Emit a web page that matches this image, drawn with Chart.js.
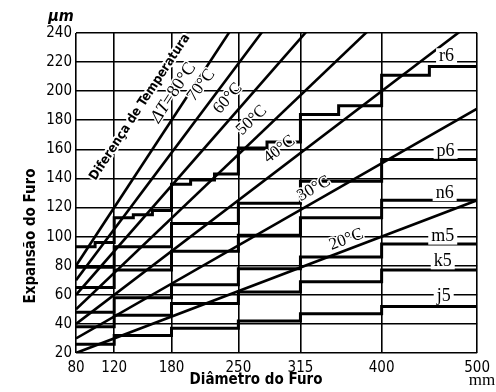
<!DOCTYPE html>
<html>
<head>
<meta charset="utf-8">
<script src="https://cdn.jsdelivr.net/npm/chart.js@4"></script>
<style>
  html, body { margin: 0; padding: 0; background: #fff; }
</style>
</head>
<body>
<canvas id="expChart" width="496" height="392"></canvas>
<script>
// diameter ticks (mm)
const xTicks = [80, 120, 180, 250, 315, 400, 500];

// temperature difference lines: expansion at D=80 and D=500 (um)
const deltaT = [20, 30, 40, 50, 60, 70, 80];
const tempAt80 = [20, 30, 40, 50, 60, 70, 80];
const tempAt500 = [125, 188, 250, 313, 375, 438, 500];

// fit step lines (um), value holds from each x until the next x
const fitNames = ["j5", "k5", "m5", "n6", "p6"];
const fitSteps = [
  [26, 32, 37, 42, 47, 52, 52],
  [38, 46, 54, 62, 69, 77, 77],
  [48, 58, 67, 78, 86, 95, 95],
  [65, 77, 90, 101, 113, 125, 125],
  [79, 93, 109, 123, 138, 153, 153]
];
const r6X = [80, 100, 120, 140, 160, 180, 200, 225, 250, 280, 315, 355, 400, 450, 500];
const r6Y = [93, 96, 113, 115, 118, 136, 139, 143, 161, 165, 184, 190, 211, 217, 217];

const NARROW = "'Liberation Sans Narrow', 'DejaVu Sans Condensed', sans-serif";
const SERIF = "'Liberation Serif', 'DejaVu Serif', serif";

const datasets = [];
deltaT.forEach((t, i) => {
  datasets.push({
    label: t + "°C",
    data: [{ x: 80, y: tempAt80[i] }, { x: 500, y: tempAt500[i] }],
    borderColor: "#000",
    borderWidth: 2.6,
    pointRadius: 0,
    clip: 0
  });
});
fitNames.forEach((name, i) => {
  datasets.push({
    label: name,
    data: xTicks.map((d, j) => ({ x: d, y: fitSteps[i][j] })),
    borderColor: "#000",
    borderWidth: 3,
    stepped: "before",  // hold value until next point
    pointRadius: 0,
    clip: 0
  });
});
datasets.push({
  label: "r6",
  data: r6X.map((d, j) => ({ x: d, y: r6Y[j] })),
  borderColor: "#000",
  borderWidth: 3,
  stepped: "before",
  pointRadius: 0,
  clip: 0
});

// label spots in data units
const tempLabels = [
  { text: "20°C", d: 363, v: 98, i: 0 },
  { text: "30°C", d: 329, v: 133, i: 1 },
  { text: "40°C", d: 293, v: 160, i: 2 },
  { text: "50°C", d: 264, v: 180, i: 3 },
  { text: "60°C", d: 239, v: 195, i: 4 },
  { text: "70°C", d: 211, v: 204, i: 5 }
];
const fitLabels = [
  { text: "r6", d: 468, v: 224 },
  { text: "p6", d: 467, v: 159 },
  { text: "n6", d: 466, v: 130 },
  { text: "m5", d: 464, v: 100 },
  { text: "k5", d: 464, v: 83 },
  { text: "j5", d: 465, v: 59 }
];

function lineAngle(x, y, i) {
  const dx = x.getPixelForValue(500) - x.getPixelForValue(80);
  const dy = y.getPixelForValue(tempAt500[i]) - y.getPixelForValue(tempAt80[i]);
  return Math.atan2(dy, dx);
}

const textPlugin = {
  id: "textPlugin",
  afterDatasetsDraw(chart) {
    const { ctx, scales: { x, y } } = chart;
    ctx.save();
    ctx.textAlign = "center";
    ctx.textBaseline = "middle";
    ctx.lineJoin = "round";

    // temperature labels
    tempLabels.forEach(l => {
      ctx.save();
      ctx.translate(x.getPixelForValue(l.d), y.getPixelForValue(l.v));
      ctx.rotate(lineAngle(x, y, l.i));
      ctx.font = "17px " + SERIF;
      ctx.strokeStyle = "#fff";
      ctx.lineWidth = 3;
      ctx.strokeText(l.text, 0, 0);
      ctx.fillStyle = "#000";
      ctx.fillText(l.text, 0, 0);
      ctx.restore();
    });

    // delta T = 80 label
    ctx.save();
    ctx.translate(x.getPixelForValue(182), y.getPixelForValue(199));
    ctx.rotate(lineAngle(x, y, 6));
    ctx.textAlign = "left";
    const partA = "\u0394T";
    const partB = "=80°C";
    ctx.font = "italic 18px " + SERIF;
    const wA = ctx.measureText(partA).width;
    ctx.font = "18px " + SERIF;
    const wB = ctx.measureText(partB).width;
    const x0 = -(wA + wB) / 2;
    ctx.strokeStyle = "#fff";
    ctx.lineWidth = 3;
    ctx.fillStyle = "#000";
    ctx.font = "italic 18px " + SERIF;
    ctx.strokeText(partA, x0, 0);
    ctx.fillText(partA, x0, 0);
    ctx.font = "18px " + SERIF;
    ctx.strokeText(partB, x0 + wA, 0);
    ctx.fillText(partB, x0 + wA, 0);
    ctx.restore();

    // Diferença de Temperatura
    ctx.save();
    ctx.translate(x.getPixelForValue(147), y.getPixelForValue(189));
    ctx.rotate(lineAngle(x, y, 6));
    ctx.font = "bold 13px " + NARROW;
    ctx.strokeStyle = "#fff";
    ctx.lineWidth = 4;
    ctx.strokeText("Diferença de Temperatura", 0, 0);
    ctx.fillStyle = "#000";
    ctx.fillText("Diferença de Temperatura", 0, 0);
    ctx.restore();

    // fit labels
    ctx.font = "18px " + SERIF;
    fitLabels.forEach(l => {
      const px = x.getPixelForValue(l.d);
      const py = y.getPixelForValue(l.v);
      const w = ctx.measureText(l.text).width;
      ctx.fillStyle = "#fff";
      ctx.fillRect(px - w / 2 - 3, py - 8, w + 6, 16);
      ctx.fillStyle = "#000";
      ctx.fillText(l.text, px, py);
    });
    ctx.restore();
  },
  afterDraw(chart) {
    const { ctx } = chart;
    ctx.save();
    ctx.fillStyle = "#000";
    ctx.textBaseline = "middle";
    ctx.textAlign = "center";
    // x title
    ctx.font = "bold 15px " + NARROW;
    ctx.fillText("Diâmetro do Furo", 256, 380);
    // y title
    ctx.save();
    ctx.translate(31, 236);
    ctx.rotate(-Math.PI / 2);
    ctx.fillText("Expansão do Furo", 0, 0);
    ctx.restore();
    // units
    ctx.font = "italic bold 16px " + NARROW;
    ctx.fillText("\u03BCm", 61, 17);
    ctx.font = "17px " + SERIF;
    ctx.fillText("mm", 482, 381);
    ctx.restore();
  }
};

new Chart(document.getElementById("expChart").getContext("2d"), {
  type: "line",
  data: { datasets: datasets },
  options: {
    responsive: false,
    animation: false,
    events: [],
    layout: { padding: { top: 33, right: 18, left: 0, bottom: 0 } },
    plugins: {
      legend: { display: false },
      tooltip: { enabled: false }
    },
    scales: {
      x: {
        type: "linear",
        min: 80,
        max: 500,
        afterBuildTicks: scale => {
          scale.ticks = xTicks.map(v => ({ value: v }));
        },
        afterFit: scale => { scale.height = 39; },
        grid: { color: "#000", lineWidth: 1.6, drawTicks: false },
        border: { display: false },
        ticks: {
          color: "#000",
          font: { family: NARROW, size: 15 },
          padding: 6,
          maxRotation: 0,
          autoSkip: false
        }
      },
      y: {
        type: "linear",
        min: 20,
        max: 240,
        afterFit: scale => { scale.width = 76; },
        grid: { color: "#000", lineWidth: 1.6, drawTicks: false },
        border: { display: false },
        ticks: {
          stepSize: 20,
          color: "#000",
          font: { family: NARROW, size: 15 },
          padding: 4
        }
      }
    }
  },
  plugins: [textPlugin]
});
</script>
</body>
</html>
